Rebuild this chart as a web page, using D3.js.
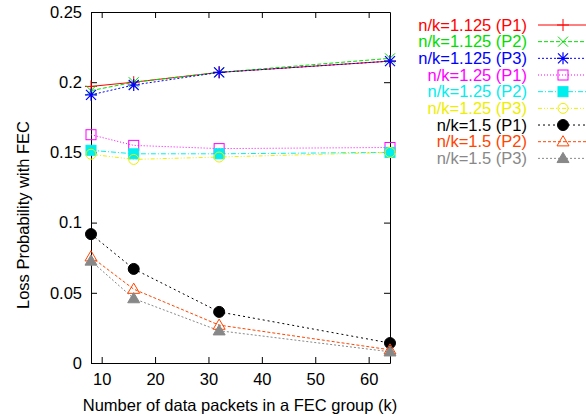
<!DOCTYPE html>
<html><head><meta charset="utf-8">
<script src="https://cdn.jsdelivr.net/npm/d3@7"></script>
<style>body{margin:0;background:#fff;} svg{display:block;font-family:"Liberation Sans",Arial,sans-serif;}</style>
</head><body>
<script>
const kValues = [8, 16, 32, 64];
const xTicks = [10, 20, 30, 40, 50, 60];
const yTicks = [0, 0.05, 0.1, 0.15, 0.2, 0.25];
const yTickLabels = ["0", "0.05", "0.1", "0.15", "0.2", "0.25"];
const seriesNames = ["n/k=1.125 (P1)", "n/k=1.125 (P2)", "n/k=1.125 (P3)", "n/k=1.25 (P1)", "n/k=1.25 (P2)", "n/k=1.25 (P3)", "n/k=1.5 (P1)", "n/k=1.5 (P2)", "n/k=1.5 (P3)"];
const s1125P1 = [0.197, 0.200, 0.207, 0.215];
const s1125P2 = [0.194, 0.200, 0.207, 0.217];
const s1125P3 = [0.191, 0.198, 0.207, 0.215];
const s125P1 = [0.1626, 0.155, 0.1527, 0.1535];
const s125P2 = [0.1515, 0.149, 0.149, 0.150];
const s125P3 = [0.1487, 0.145, 0.1467, 0.150];
const s15P1 = [0.0918, 0.067, 0.0364, 0.0142];
const s15P2 = [0.0757, 0.0526, 0.027, 0.0094];
const s15P3 = [0.0727, 0.0459, 0.023, 0.008];
const seriesValues = [s1125P1, s1125P2, s1125P3, s125P1, s125P2, s125P3, s15P1, s15P2, s15P3];
const seriesColors = ["#ff0000", "#00dd00", "#0000ff", "#ff00ff", "#00eeee", "#eeee00", "#000000", "#ff4500", "#888888"];
const seriesDash = [null, "4,2", "2,2", "1,2", "5,2,1,2", "4,2,1,2,1,2", "2,3", "3,2", "2,2"];
const seriesMarker = ["plus", "cross", "star", "square", "fsquare", "circle", "fcircle", "triangle", "ftriangle"];

const W = 586, H = 418;
const FS = 16.5;
const m = {left: 91, right: 196, top: 12, bottom: 55};
const svg = d3.select("body").append("svg").attr("width", W).attr("height", H);
const x = d3.scaleLinear().domain([8, 64]).range([m.left, W - m.right]);
const y = d3.scaleLinear().domain([0, 0.25]).range([H - m.bottom, m.top]);

const tl = 6;
const g = svg.append("g");
const axBottom = g.append("g").attr("transform", `translate(0,${y(0)})`)
  .call(d3.axisBottom(x).tickValues(xTicks).tickSizeInner(-tl).tickSizeOuter(0).tickPadding(10));
const axTop = g.append("g").attr("transform", `translate(0,${y(0.25)})`)
  .call(d3.axisTop(x).tickValues(xTicks).tickSizeInner(-tl).tickSizeOuter(0).tickFormat(""));
const axLeft = g.append("g").attr("transform", `translate(${x(8)},0)`)
  .call(d3.axisLeft(y).tickValues(yTicks).tickFormat((d,i)=>yTickLabels[i]).tickSizeInner(-tl).tickSizeOuter(0).tickPadding(9));
const axRight = g.append("g").attr("transform", `translate(${x(64)},0)`)
  .call(d3.axisRight(y).tickValues(yTicks).tickSizeInner(-tl).tickSizeOuter(0).tickFormat(""));
[axBottom, axTop, axLeft, axRight].forEach(a => {
  a.selectAll("path.domain").attr("stroke", "#000").attr("stroke-width", 1);
  a.selectAll("line").attr("stroke", "#000");
  a.selectAll("text").attr("font-size", FS).attr("fill", "#000").attr("font-family", '"Liberation Sans",Arial,sans-serif');
});

svg.append("text").attr("x", 240).attr("y", 411).attr("text-anchor", "middle")
  .attr("font-size", FS).text("Number of data packets in a FEC group (k)");
svg.append("text").attr("transform", `translate(29,215) rotate(-90)`).attr("text-anchor", "middle")
  .attr("font-size", FS).text("Loss Probability with FEC");

function marker(sel, type, color, cx, cy) {
  const r = 5;
  if (type === "plus") {
    sel.append("path").attr("d", `M${cx-r-1},${cy}H${cx+r+1}M${cx},${cy-r-1}V${cy+r+1}`).attr("stroke", color).attr("stroke-width", 1);
  } else if (type === "cross") {
    sel.append("path").attr("d", `M${cx-r},${cy-r}L${cx+r},${cy+r}M${cx-r},${cy+r}L${cx+r},${cy-r}`).attr("stroke", color).attr("stroke-width", 1);
  } else if (type === "star") {
    sel.append("path").attr("d", `M${cx-r-1},${cy}H${cx+r+1}M${cx},${cy-r-1}V${cy+r+1}M${cx-r},${cy-r}L${cx+r},${cy+r}M${cx-r},${cy+r}L${cx+r},${cy-r}`).attr("stroke", color).attr("stroke-width", 1.2);
  } else if (type === "square" || type === "fsquare") {
    sel.append("rect").attr("x", cx-r).attr("y", cy-r).attr("width", 2*r).attr("height", 2*r)
      .attr("fill", type === "fsquare" ? color : "none").attr("stroke", color).attr("stroke-width", 1);
  } else if (type === "circle" || type === "fcircle") {
    sel.append("circle").attr("cx", cx).attr("cy", cy).attr("r", type === "fcircle" ? 5.5 : 5)
      .attr("fill", type === "fcircle" ? color : "none").attr("stroke", color).attr("stroke-width", 1);
  } else {
    const h = 6;
    sel.append("path").attr("d", `M${cx},${cy-h}L${cx+h},${cy+h*0.7}L${cx-h},${cy+h*0.7}Z`)
      .attr("fill", type === "ftriangle" ? color : "none").attr("stroke", color).attr("stroke-width", 1);
  }
}

const line = d3.line().x((d,i)=>x(kValues[i])).y(d=>y(d));
const plot = svg.append("g");
seriesValues.forEach((vals, si) => {
  plot.append("path").datum(vals).attr("d", line).attr("fill", "none")
    .attr("stroke", seriesColors[si]).attr("stroke-width", 1)
    .attr("stroke-dasharray", seriesDash[si]);
});
seriesValues.forEach((vals, si) => {
  vals.forEach((v, i) => marker(plot, seriesMarker[si], seriesColors[si], x(kValues[i]), y(v)));
});

const leg = svg.append("g");
seriesNames.forEach((name, si) => {
  const ly = 25 + si * 16.67;
  leg.append("text").attr("x", 527).attr("y", ly).attr("dy", "0.35em").attr("text-anchor", "end")
    .attr("font-size", FS).attr("fill", seriesColors[si]).text(name);
  leg.append("line").attr("x1", 538).attr("x2", 590).attr("y1", ly).attr("y2", ly)
    .attr("stroke", seriesColors[si]).attr("stroke-width", 1).attr("stroke-dasharray", seriesDash[si]);
  marker(leg, seriesMarker[si], seriesColors[si], 563, ly);
});
</script>
</body></html>
